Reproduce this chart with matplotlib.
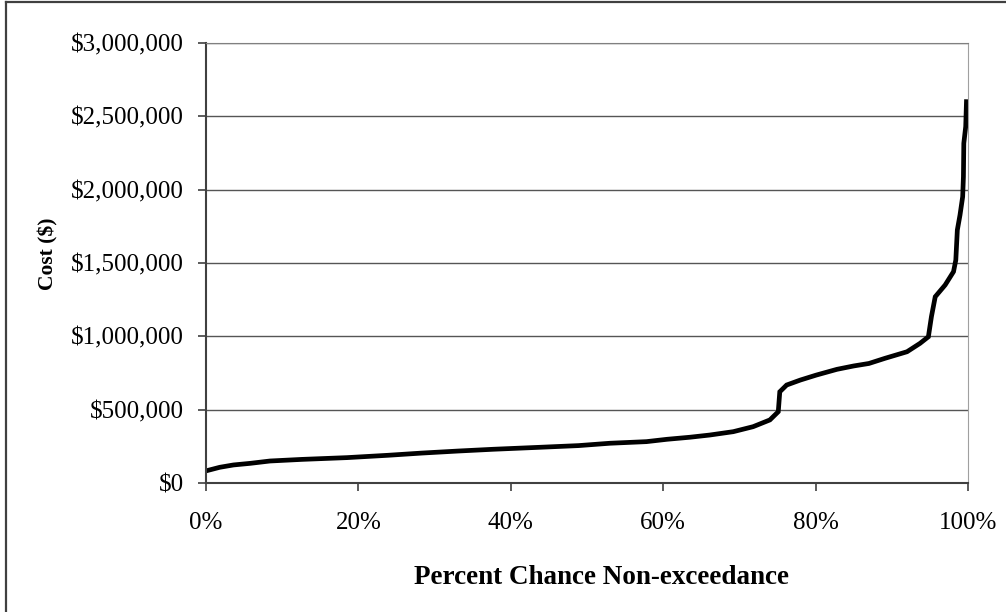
from matplotlib import pyplot as plt
from matplotlib.ticker import FuncFormatter
from matplotlib.lines import Line2D

plt.rcParams['font.family'] = ['Liberation Serif', 'DejaVu Serif']

# 读出的曲线数据（百分比, 费用）
pct = [0.1, 1.8, 3.6, 5.8, 8.4, 12.6, 18.5, 23.9, 28.3, 33.1, 37.7, 43.6, 48.9,
       53.0, 57.8, 60.5, 63.5, 66.1, 69.2, 71.8, 74.0, 75.1, 75.3, 76.2, 78.0,
       80.1, 82.8, 85.0, 87.0, 89.1, 92.0, 93.7, 94.8, 95.2, 95.7, 97.0, 98.1,
       98.4, 98.6, 98.95, 99.3, 99.4, 99.45, 99.7, 99.8]
cost = [84e3, 107e3, 123e3, 134e3, 150e3, 161e3, 173e3, 189e3, 204e3, 218e3,
        230e3, 243e3, 255e3, 271e3, 282e3, 298e3, 312e3, 327e3, 350e3, 384e3,
        430e3, 486e3, 622e3, 668e3, 702e3, 736e3, 775e3, 798e3, 815e3, 850e3,
        895e3, 952e3, 997e3, 1134e3, 1270e3, 1350e3, 1441e3, 1520e3, 1725e3,
        1827e3, 1952e3, 2089e3, 2316e3, 2430e3, 2600e3]

x_ticks = [0, 20, 40, 60, 80, 100]
y_ticks = [0, 500e3, 1000e3, 1500e3, 2000e3, 2500e3, 3000e3]

fig = plt.figure(figsize=(10.06, 6.12), dpi=100)
ax = fig.add_axes([206 / 1006, 1 - 483 / 612, (968 - 206) / 1006, (483 - 43) / 612])

ax.plot(pct, cost, color='k', linewidth=3.4, solid_joinstyle='miter')

ax.set_xlim(0, 100)
ax.set_ylim(0, 3000e3)
ax.set_xticks(x_ticks)
ax.set_yticks(y_ticks)
ax.xaxis.set_major_formatter(FuncFormatter(lambda v, p: '%d%%' % v))
ax.yaxis.set_major_formatter(FuncFormatter(lambda v, p: '${:,.0f}'.format(v)))

# 网格线
ax.grid(axis='y', color='#555555', linewidth=1.0)
ax.set_axisbelow(True)

ax.spines['left'].set_color('#404040')
ax.spines['bottom'].set_color('#404040')
ax.spines['left'].set_linewidth(1.5)
ax.spines['bottom'].set_linewidth(1.5)
ax.spines['right'].set_color('#a0a0a0')
ax.spines['top'].set_color('#808080')

ax.tick_params(axis='both', direction='out', length=6, width=1.2, color='#404040',
               labelsize=18)
ax.tick_params(axis='y', pad=10)
ax.tick_params(axis='x', pad=15)

# 坐标轴标题
fig.text(602 / 1006, 1 - 578 / 612, 'Percent Chance Non-exceedance', fontsize=19.5,
         fontweight='bold', ha='center', va='center')
fig.text(48 / 1006, 1 - 254 / 612, 'Cost ($)', fontsize=15.5, fontweight='bold',
         rotation=90, ha='center', va='center')

# 外框（左、上）
fig.add_artist(Line2D([5.5 / 1006, 5.5 / 1006], [0, 1 - 1.5 / 612], color='#404040',
                      linewidth=1.6, transform=fig.transFigure))
fig.add_artist(Line2D([5.5 / 1006, 1], [1 - 1.5 / 612, 1 - 1.5 / 612], color='#404040',
                      linewidth=1.6, transform=fig.transFigure))

plt.savefig('out.png', dpi=100)
